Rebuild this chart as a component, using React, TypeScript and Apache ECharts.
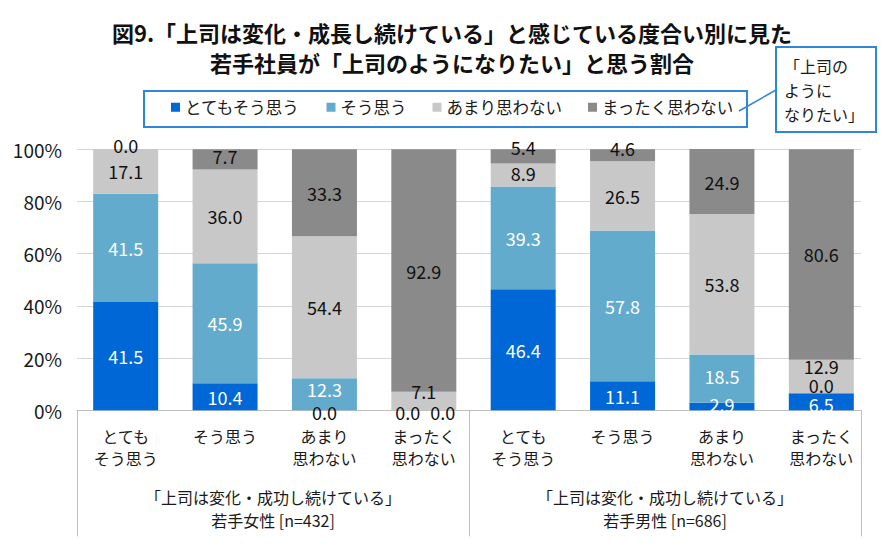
import React, { useEffect, useRef } from "react";
import * as echarts from "echarts";

const FONT = '"Noto Sans CJK JP", "Noto Sans", sans-serif';

const titleLines = [
  "図9.「上司は変化・成長し続けている」と感じている度合い別に見た",
  "若手社員が「上司のようになりたい」と思う割合",
];
const calloutLines = ["「上司の", "ように", "なりたい」"];

const categories = [
  "とても\nそう思う",
  "そう思う",
  "あまり\n思わない",
  "まったく\n思わない",
  "とても\nそう思う",
  "そう思う",
  "あまり\n思わない",
  "まったく\n思わない",
];
const groups = [
  "「上司は変化・成功し続けている」\n若手女性 [n=432]",
  "「上司は変化・成功し続けている」\n若手男性 [n=686]",
];
const seriesNames = ["とてもそう思う", "そう思う", "あまり思わない", "まったく思わない"];

const verySo = [41.5, 10.4, 0.0, 0.0, 46.4, 11.1, 2.9, 6.5];
const so = [41.5, 45.9, 12.3, 0.0, 39.3, 57.8, 18.5, 0.0];
const notMuch = [17.1, 36.0, 54.4, 7.1, 8.9, 26.5, 53.8, 12.9];
const notAtAll = [0.0, 7.7, 33.3, 92.9, 5.4, 4.6, 24.9, 80.6];

const yMin = 0;
const yMax = 100;
const yStep = 20;

const seriesValues = [verySo, so, notMuch, notAtAll];
const colors = ["#0068D6", "#63ABCD", "#C8C8C8", "#8A8A8A"];
const labelColors = ["#ffffff", "#ffffff", "#111111", "#111111"];

// label nudges (series-index) to keep crowded labels readable, as in the reference
const labelNudges: Record<string, [number, number]> = {
  "3-0": [0, -4],
  "1-2": [0, -5],
  "0-2": [0, 2],
  "0-3": [-16, 2],
  "1-3": [19, 2],
  "2-3": [0, -10],
  "3-1": [0, -3],
  "3-4": [0, -9],
  "2-4": [0, -2],
  "3-5": [0, -7],
  "0-6": [0, -3],
  "1-6": [0, -3],
  "0-7": [0, 2],
  "1-7": [0, -8],
  "2-7": [0, -11],
};

const BLUE = "#2F87DC";

export default function App() {
  const ref = useRef<HTMLDivElement>(null);

  useEffect(() => {
    if (!ref.current) return;
    const chart = echarts.init(ref.current, null, { renderer: "svg" });

    const series = seriesValues.map((vals, s) => ({
      name: seriesNames[s],
      type: "bar",
      stack: "total",
      xAxisIndex: 0,
      yAxisIndex: 0,
      barWidth: 65,
      clip: false,
      itemStyle: { color: colors[s] },
      data: vals.map((v, i) => {
        const nudge = labelNudges[`${s}-${i}`] || [0, 0];
        return {
          value: v,
          label: {
            offset: nudge,
            color: v === 0 ? "#111111" : labelColors[s],
          },
        };
      }),
      label: {
        show: true,
        position: "inside",
        fontSize: 18,
        lineHeight: 15,
        fontFamily: FONT,
        formatter: (p: any) => Number(p.value).toFixed(1),
      },
    }));

    chart.setOption({
      animation: false,
      textStyle: { fontFamily: FONT },
      grid: [
        { left: 76, right: 24, top: 149.3, bottom: 135.7 },
        { left: 77, right: 34, top: 149.3, bottom: 135.7 },
      ],
      xAxis: [
        {
          type: "category",
          gridIndex: 0,
          data: categories,
          axisLine: { show: false },
          axisTick: { show: false },
          axisLabel: {
            fontSize: 16,
            lineHeight: 22,
            color: "#1a1a1a",
            margin: 15,
            fontFamily: FONT,
            interval: 0,
          },
        },
        {
          type: "category",
          gridIndex: 1,
          data: groups,
          axisLine: { show: true, lineStyle: { color: "#BFBFBF", width: 1 } },
          axisTick: { show: true, length: 126, lineStyle: { color: "#BFBFBF", width: 1 } },
          axisLabel: {
            fontSize: 16,
            lineHeight: 23,
            color: "#1a1a1a",
            margin: 75,
            fontFamily: FONT,
            interval: 0,
          },
        },
      ],
      yAxis: [
        {
          type: "value",
          gridIndex: 0,
          min: yMin,
          max: yMax,
          interval: yStep,
          show: false,
        },
        {
          type: "value",
          gridIndex: 1,
          min: yMin,
          max: yMax,
          interval: yStep,
          axisLine: { show: false },
          axisTick: { show: false },
          splitLine: { lineStyle: { color: "#D6D6D6", width: 1.2 } },
          axisLabel: {
            formatter: "{value}%",
            fontSize: 19,
            color: "#1a1a1a",
            margin: 15,
            fontFamily: FONT,
          },
        },
      ],
      legend: {
        data: seriesNames,
        left: 171,
        top: 99,
        padding: 0,
        icon: "rect",
        itemWidth: 9,
        itemHeight: 9,
        itemGap: 26,
        textStyle: { fontSize: 16.5, color: "#1a1a1a", fontFamily: FONT },
      },
      graphic: [
        {
          type: "text",
          style: {
            text: titleLines.join("\n"),
            x: 452,
            y: 47,
            align: "center",
            verticalAlign: "middle",
            lineHeight: 30,
            fontSize: 22,
            fontWeight: "bold",
            fill: "#111111",
            fontFamily: FONT,
          },
        },
        {
          type: "rect",
          shape: { x: 144, y: 91, width: 603, height: 36 },
          style: { fill: "none", stroke: BLUE, lineWidth: 2 },
        },
        {
          type: "line",
          shape: { x1: 739, y1: 111, x2: 776, y2: 90 },
          style: { stroke: BLUE, lineWidth: 1.5 },
        },
        {
          type: "rect",
          shape: { x: 776, y: 47, width: 100, height: 85 },
          style: { fill: "#ffffff", stroke: BLUE, lineWidth: 2 },
        },
        {
          type: "text",
          style: {
            text: calloutLines.join("\n"),
            x: 784,
            y: 54,
            align: "left",
            verticalAlign: "top",
            lineHeight: 24,
            fontSize: 16,
            fill: "#1a1a1a",
            fontFamily: FONT,
          },
        },
      ],
      series,
    });

    return () => chart.dispose();
  }, []);

  return (
    <div
      ref={ref}
      style={{ position: "fixed", left: 0, top: 0, width: 895, height: 546, background: "#ffffff" }}
    />
  );
}
